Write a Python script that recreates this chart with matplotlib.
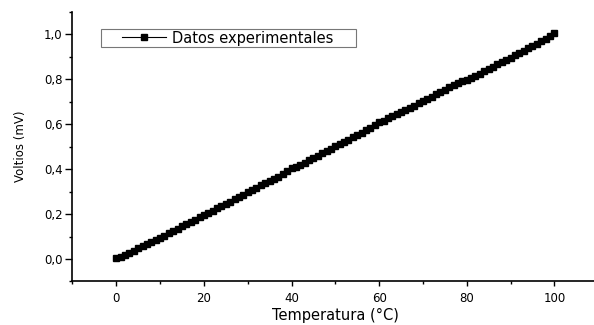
import matplotlib.pyplot as plt
from matplotlib.patches import Rectangle
from matplotlib.ticker import MultipleLocator, FuncFormatter

plt.rcParams['font.family'] = ['DejaVu Sans']

temperatura = list(range(0, 101))
voltios = [
    0.003, 0.010, 0.018, 0.028, 0.037, 0.048, 0.058, 0.066, 0.075, 0.085,
    0.095, 0.104, 0.114, 0.124, 0.134, 0.145, 0.155, 0.164, 0.174, 0.185,
    0.198, 0.206, 0.215, 0.226, 0.236, 0.247, 0.256, 0.266, 0.276, 0.287,
    0.298, 0.307, 0.318, 0.329, 0.338, 0.348, 0.356, 0.366, 0.378, 0.390,
    0.404, 0.410, 0.418, 0.429, 0.440, 0.449, 0.460, 0.472, 0.482, 0.491,
    0.502, 0.510, 0.520, 0.531, 0.543, 0.553, 0.563, 0.574, 0.584, 0.596,
    0.608, 0.616, 0.626, 0.636, 0.646, 0.656, 0.665, 0.673, 0.683, 0.693,
    0.702, 0.712, 0.722, 0.733, 0.743, 0.754, 0.764, 0.774, 0.784, 0.792,
    0.797, 0.806, 0.816, 0.826, 0.836, 0.846, 0.857, 0.867, 0.877, 0.887,
    0.897, 0.907, 0.917, 0.928, 0.938, 0.949, 0.959, 0.970, 0.981, 0.993,
    1.005,
]
etiqueta = 'Datos experimentales'

fig = plt.figure(figsize=(5.94, 3.25), dpi=100)
ax = fig.add_axes([0.122, 0.134, 0.885, 0.829])

ax.plot(temperatura, voltios, color='black', marker='s', markersize=3.8,
        linewidth=1, label=etiqueta)

ax.set_xlim(-10, 110)
ax.set_ylim(-0.1, 1.1)
ax.xaxis.set_major_locator(MultipleLocator(20))
ax.xaxis.set_minor_locator(MultipleLocator(10))
ax.yaxis.set_major_locator(MultipleLocator(0.2))
ax.yaxis.set_minor_locator(MultipleLocator(0.1))
ax.yaxis.set_major_formatter(FuncFormatter(lambda v, p: f'{v:.1f}'.replace('.', ',')))

for s in ['top', 'right']:
    ax.spines[s].set_visible(False)
for s in ['left', 'bottom']:
    ax.spines[s].set_linewidth(1.2)

ax.tick_params(which='major', direction='out', length=5, width=1, labelsize=8.5, pad=2)
ax.tick_params(axis='x', which='major', length=3.5, pad=4)
ax.tick_params(which='minor', direction='out', length=2.5, width=1)

ax.set_xlabel('Temperatura (°C)', fontsize=10.5, labelpad=2)
ax.set_ylabel('Voltios (mV)', fontsize=8.5, labelpad=12)

# legend frame drawn separately, wider than the entry like the original
fig.patches.append(Rectangle((0.170, 0.855), 0.429, 0.055, transform=fig.transFigure,
                             fill=False, edgecolor='#777777', linewidth=0.8))
leg = ax.legend(loc='center left', bbox_to_anchor=(122 / 594, (325 - 38) / 325),
                bbox_transform=fig.transFigure, fontsize=10.5, frameon=False,
                handlelength=3.0, borderpad=0, handletextpad=0.4, borderaxespad=0)
for h in leg.legend_handles:
    h.set_linewidth(0.8)

fig.savefig('out.png', dpi=100)
